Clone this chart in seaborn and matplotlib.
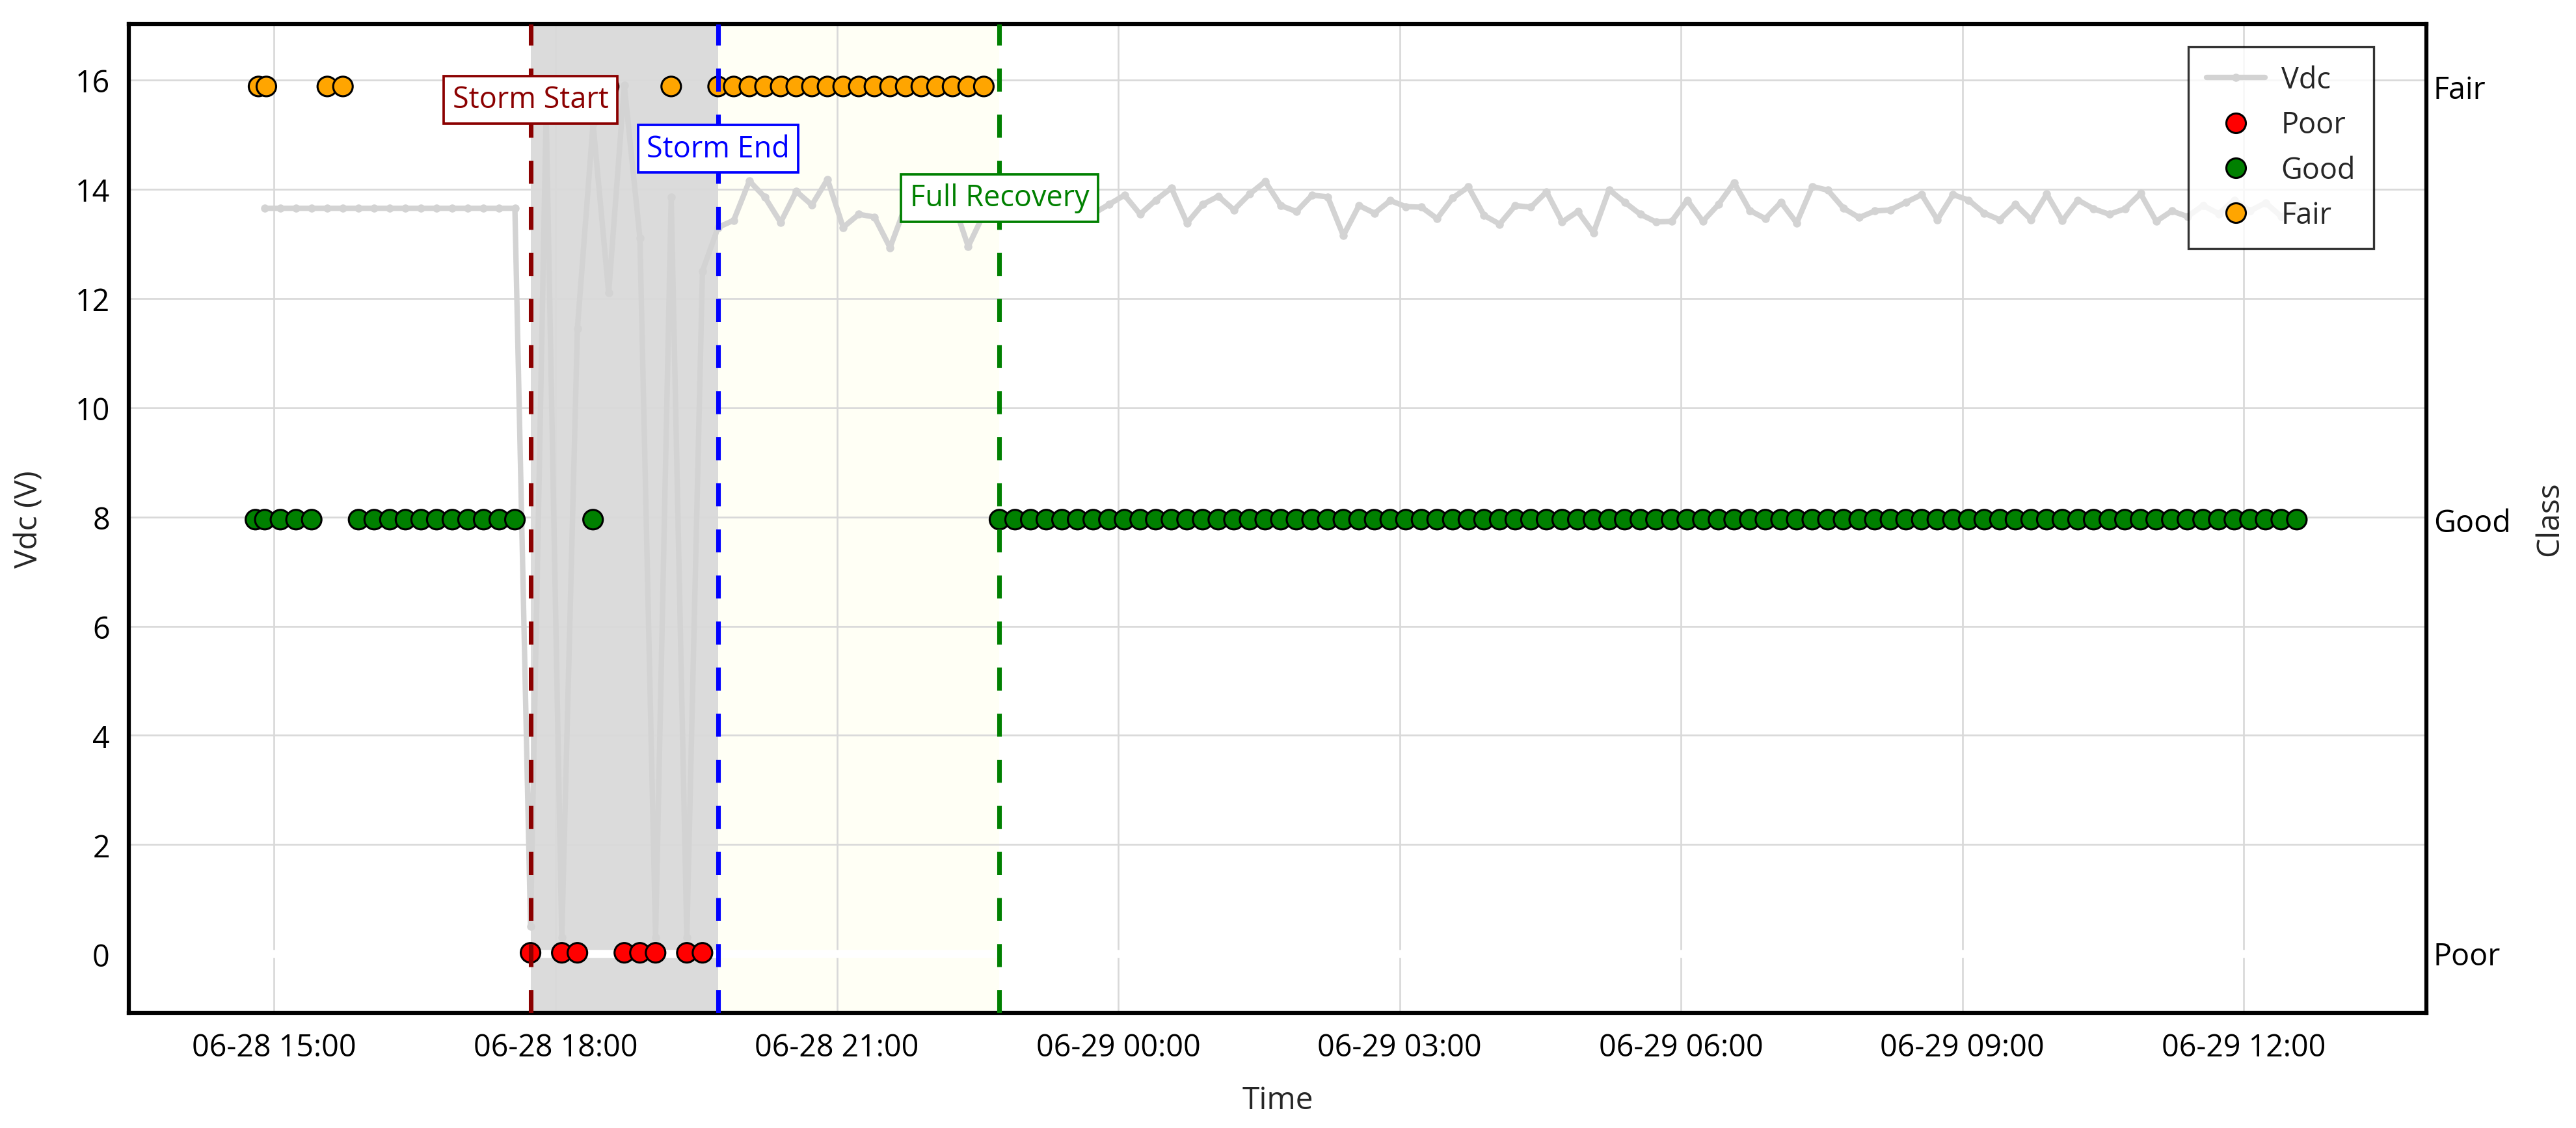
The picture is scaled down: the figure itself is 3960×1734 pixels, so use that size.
import pandas as pd
import numpy as np
import matplotlib
matplotlib.use("Agg")
import matplotlib.pyplot as plt
import matplotlib.dates as mdates
from matplotlib.lines import Line2D
import seaborn as sns

# ─────────────────────────────────────────────
# DATA (10-minute samples)
# ─────────────────────────────────────────────
start_time = "2024-06-28 14:54"

vdc_values = [
    13.65, 13.65, 13.65, 13.65, 13.65, 13.65, 13.65, 13.65, 13.65, 13.65,
    13.65, 13.65, 13.65, 13.65, 13.65, 13.65, 13.65, 0.5, 15.4, 0.3,
    11.45, 15.2, 12.1, 15.9, 13.1, 0.3, 13.85, 0.3, 12.5, 13.3,
    13.43, 14.15, 13.85, 13.39, 13.96, 13.71, 14.18, 13.30, 13.54, 13.49,
    12.93, 13.7, 13.9, 13.6, 13.8, 12.95, 13.55, 13.9, 13.6, 13.85,
    14.0, 13.5, 13.75, 13.55, 13.72, 13.89, 13.54, 13.80, 14.02, 13.38,
    13.72, 13.87, 13.62, 13.91, 14.14, 13.70, 13.59, 13.89, 13.86, 13.15,
    13.70, 13.56, 13.79, 13.68, 13.67, 13.46, 13.84, 14.04, 13.52, 13.36,
    13.70, 13.67, 13.95, 13.40, 13.59, 13.20, 13.99, 13.76, 13.54, 13.40,
    13.41, 13.80, 13.41, 13.72, 14.12, 13.61, 13.46, 13.76, 13.38, 14.05,
    13.98, 13.65, 13.48, 13.60, 13.62, 13.76, 13.90, 13.44, 13.90, 13.80,
    13.56, 13.44, 13.72, 13.44, 13.91, 13.42, 13.80, 13.64, 13.54, 13.64,
    13.92, 13.41, 13.60, 13.50, 13.70, 13.55, 13.80, 13.60, 13.75, 13.50,
    13.65,
]

# one character per sample: P=Poor, G=Good, F=Fair, .=no class
class_codes = (
    "GGGGFFGGGGGGGGGGG"                 # 14:54 - 17:34
    "PFPPGFPPPFPP"                      # 17:44 - 19:34 (storm)
    "FFFFFFFFFFFFFFFFFF"                # 19:44 - 22:34
    "GGGGGGGGGGGGGGGGGGGGGGGGGGGGGGGGGGGGGGGGGG"
    "GGGGGGGGGGGGGGGGGGGGGGGGGGGGGGGGGGGGGGGGGG"  # 22:44 - 12:34
)
extra_times = ["2024-06-28 14:48", "2024-06-28 14:50", "2024-06-28 14:55"]
extra_classes = ["Good", "Fair", "Fair"]

class_order = ["Poor", "Good", "Fair"]
class_colors = {"Poor": "red", "Good": "green", "Fair": "orange"}

event_names = ["Storm Start", "Storm End", "Full Recovery"]
event_times = ["2024-06-28 17:44", "2024-06-28 19:44", "2024-06-28 22:44"]
event_colors = ["darkred", "blue", "green"]
event_label_y = [15.64, 14.74, 13.84]

# ─────────────────────────────────────────────
# FRAMES
# ─────────────────────────────────────────────
times = pd.date_range(start_time, periods=len(vdc_values), freq="10min")
vdc_df = pd.DataFrame({"time": times, "Vdc": vdc_values})

code_map = {"P": "Poor", "G": "Good", "F": "Fair"}
class_df = pd.DataFrame({"time": times,
                         "Class": [code_map.get(c) for c in class_codes]}).dropna()
class_df = pd.concat([pd.DataFrame({"time": pd.to_datetime(extra_times),
                                    "Class": extra_classes}), class_df],
                     ignore_index=True)
class_df["level"] = class_df["Class"].map({c: i for i, c in enumerate(class_order)})

ev = pd.to_datetime(event_times)

# ─────────────────────────────────────────────
# PLOT
# ─────────────────────────────────────────────
sns.set_theme(style="white")
plt.rcParams["font.family"] = ["Open Sans", "DejaVu Sans"]

fig, ax = plt.subplots(figsize=(13.2, 5.7833), dpi=300)
fig.subplots_adjust(left=0.05, right=0.942, top=0.978, bottom=0.102)

# storm / recovery bands
ax.axvspan(ev[0], ev[1], color="lightgray", alpha=0.8, lw=0, zorder=0.3)
ax.axvspan(ev[1], ev[2], color="lightyellow", alpha=0.3, lw=0, zorder=0.3)

ax.set_axisbelow(True)
ax.grid(True, color="#d9d9d9", lw=0.65)
ax.axhline(0, color="white", lw=3, zorder=0.6)

sns.lineplot(data=vdc_df, x="time", y="Vdc", ax=ax, color="lightgray",
             lw=2.0, marker="o", markersize=3.0, markeredgewidth=0,
             zorder=2, legend=False)

ax2 = ax.twinx()
sns.scatterplot(data=class_df, x="time", y="level", hue="Class",
                hue_order=class_order, palette=class_colors, s=52,
                edgecolor="black", linewidth=0.75, ax=ax2, legend=False,
                zorder=3)

for t, name, col, ly in zip(ev, event_names, event_colors, event_label_y):
    ax2.axvline(t, color=col, ls=(0, (5, 5)), lw=1.7, zorder=4)
    ax2.text(mdates.date2num(t), ly, name, transform=ax.transData,
             ha="center", va="center", color=col, fontsize=10.8, zorder=5,
             bbox=dict(boxstyle="square,pad=0.3", fc="white", ec=col, lw=0.9))

# axes ranges
ax.set_xlim(pd.Timestamp("2024-06-28 13:27"), pd.Timestamp("2024-06-29 13:57"))
ax.set_ylim(-1.08, 17.02)
ax2.set_ylim((-1.08 - 0.02) / 7.93, (17.02 - 0.02) / 7.93)

ax.xaxis.set_major_locator(mdates.HourLocator(byhour=[0, 3, 6, 9, 12, 15, 18, 21]))
ax.xaxis.set_major_formatter(mdates.DateFormatter("%m-%d %H:%M"))
ax.set_yticks(range(0, 17, 2))
ax2.set_yticks([0, 1, 2])
ax2.set_yticklabels(class_order)
ax2.grid(False)

ax.tick_params(axis="both", length=0, labelsize=11.2, colors="black")
ax.tick_params(axis="y", pad=7)
ax.tick_params(axis="x", pad=7)
ax2.tick_params(axis="y", length=0, labelsize=11.2, pad=2.5, colors="black")

ax.set_xlabel("Time", fontsize=11.5, va="center")
ax.set_ylabel("Vdc (V)", fontsize=11.5, va="center")
ax2.set_ylabel("Class", fontsize=11.5, va="center")
ax.xaxis.set_label_coords(0.5, -0.088)
ax.yaxis.set_label_coords(-0.0433, 0.5)
ax2.yaxis.set_label_coords(1.0535, 0.5)

for s in ax.spines.values():
    s.set_visible(False)
for s in ax2.spines.values():
    s.set_visible(True)
    s.set_color("black")
    s.set_linewidth(1.5)

handles = [Line2D([], [], color="lightgray", lw=2.0, marker="o",
                  markersize=3.0, markeredgewidth=0, label="Vdc")]
handles += [Line2D([], [], ls="none", marker="o", markersize=7.2,
                   markerfacecolor=class_colors[c], markeredgecolor="black",
                   markeredgewidth=0.75, label=c) for c in class_order]
leg = ax2.legend(handles=handles, loc="upper right", bbox_to_anchor=(0.977, 0.977),
                 frameon=True, fancybox=False, edgecolor="black", fontsize=10.8,
                 handlelength=2.0, labelspacing=0.52, borderpad=0.62,
                 handletextpad=0.55, borderaxespad=0)
leg.get_frame().set_linewidth(0.8)
leg.set_zorder(6)

plt.savefig("out.png", dpi=300)
